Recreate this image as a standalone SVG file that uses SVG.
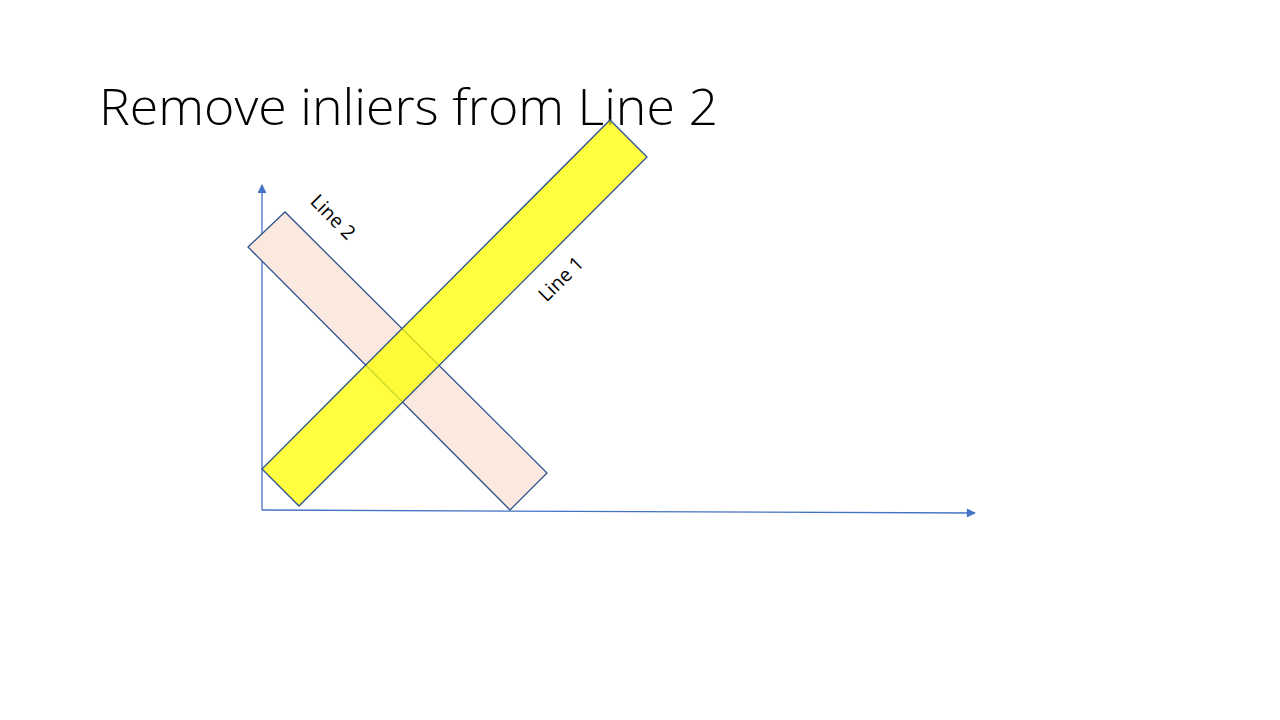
<svg xmlns="http://www.w3.org/2000/svg" width="1280" height="720" viewBox="0 0 1280 720">
<style>
.title{font-family:"Open Sans","Liberation Sans",Arial,sans-serif;font-weight:300;font-size:50px;fill:#000}
.lbl{font-family:"Open Sans","Liberation Sans",Arial,sans-serif;font-size:19.5px;fill:#000}
.axis{stroke:#4472C4;stroke-width:1.3;fill:none}
.band{stroke:#2F528F;stroke-width:1.3}
</style>
<defs>
<marker id="arr" viewBox="0 0 10 10" refX="9" refY="5" markerWidth="10" markerHeight="9" markerUnits="userSpaceOnUse" orient="auto">
<path d="M0,0 L10,5 L0,10 z" fill="#4472C4"/>
</marker>
</defs>
<rect width="1280" height="720" fill="#fff"/>
<text class="title" x="99" y="125" textLength="619" lengthAdjust="spacingAndGlyphs">Remove inliers from Line 2</text>
<g id="axes">
<line class="axis" x1="262" y1="510" x2="262" y2="185" marker-end="url(#arr)"/>
<line class="axis" x1="262" y1="510" x2="975" y2="513" marker-end="url(#arr)"/>
</g>
<g id="line2">
<polygon class="band" points="248,247 285,212 547,473 510,510" fill="#FBE9DF"/>
</g>
<g id="line1">
<polygon class="band" points="262,469 299,506 647,157 610,120" fill="#FFFF00" fill-opacity="0.75"/>
</g>
<g id="labels">
<text class="lbl" transform="translate(332,218) rotate(45)" text-anchor="middle" dominant-baseline="middle">Line 2</text>
<text class="lbl" transform="translate(562,280) rotate(-45)" text-anchor="middle" dominant-baseline="middle">Line 1</text>
</g>
</svg>
